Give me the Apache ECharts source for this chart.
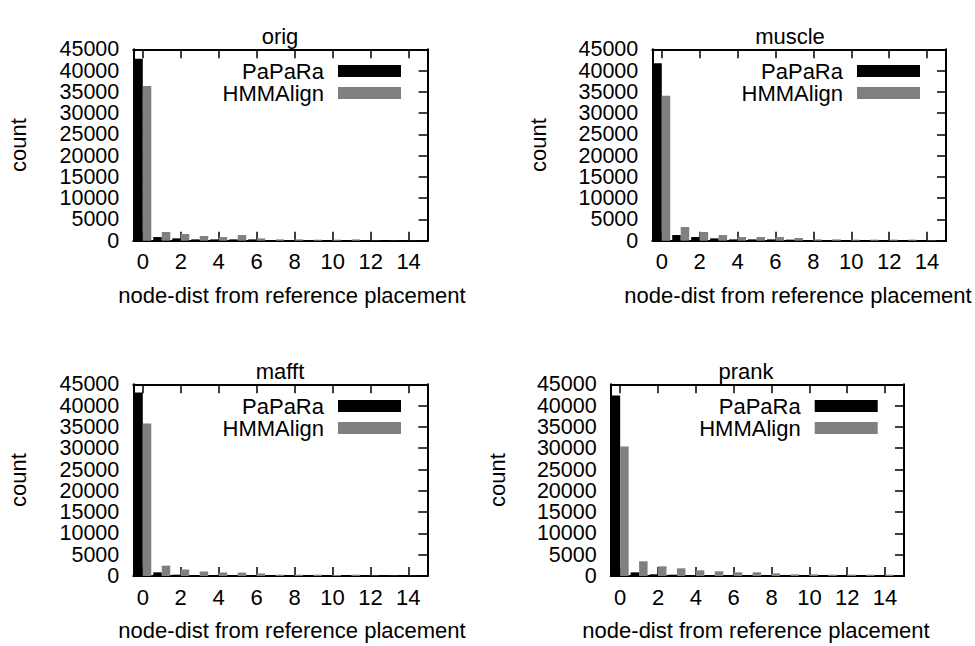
<!DOCTYPE html>
<html>
<head>
<meta charset="utf-8">
<script src="https://cdn.jsdelivr.net/npm/echarts@6/dist/echarts.min.js"></script>
<style>
  html, body { margin: 0; padding: 0; background: #fff; }
  #chart { width: 975px; height: 646px; }
</style>
</head>
<body>
<div id="chart"></div>
<script>
// --- data ---
var dists = [0, 1, 2, 3, 4, 5, 6, 7, 8, 9, 10, 11, 12, 13, 14];
var xTicks = [0, 2, 4, 6, 8, 10, 12, 14];
// y tick labels, split in two sets so the tightly packed labels are all kept
var yLabelsA = [0, 10000, 20000, 30000, 40000];
var yLabelsB = [5000, 15000, 25000, 35000, 45000];
var seriesNames = ['PaPaRa', 'HMMAlign'];
var panelNames = ['orig', 'muscle', 'mafft', 'prank'];

var origPapara   = [42800, 860, 550, 310, 310, 310, 310, 80, 50, 40, 30, 20, 10, 5, 5];
var origHmm      = [36400, 2040, 1570, 1100, 860, 1330, 550, 310, 310, 240, 240, 310, 60, 40, 30];
var musclePapara = [41700, 1330, 860, 550, 310, 310, 310, 250, 100, 80, 60, 40, 30, 20, 10];
var muscleHmm    = [34100, 3210, 2040, 1330, 860, 860, 860, 630, 310, 310, 250, 250, 250, 250, 100];
var mafftPapara  = [43100, 860, 310, 240, 100, 80, 60, 40, 30, 20, 10, 10, 5, 5, 5];
var mafftHmm     = [35800, 2430, 1530, 1060, 820, 800, 590, 310, 310, 310, 240, 310, 100, 50, 30];
var prankPapara  = [42400, 860, 390, 310, 80, 60, 50, 40, 30, 20, 20, 10, 10, 5, 5];
var prankHmm     = [30400, 3450, 2270, 1800, 1330, 1100, 860, 860, 630, 390, 390, 310, 310, 310, 310];

var panelData = [
  [origPapara, origHmm],
  [musclePapara, muscleHmm],
  [mafftPapara, mafftHmm],
  [prankPapara, prankHmm]
];

// --- layout (px) ---
var grids = [
  { left: 133.3, top: 49.3, width: 294.3, height: 191.4 },
  { left: 652.3, top: 49.3, width: 293.7, height: 191.4 },
  { left: 133.3, top: 384.3, width: 294, height: 191.7 },
  { left: 610.7, top: 384.3, width: 293.3, height: 191.7 }
];
var titlePos = [[280, 36], [790, 36], [280, 371], [746, 371]];
var xNamePos = [[292, 295], [798, 295], [292, 630], [756, 630]];
var yNamePos = [[18, 145], [538, 145], [18, 480], [497, 480]];
var legendPos = [[574, 60], [55, 60], [574, 395], [97.3, 395]];

var font = '"Liberation Sans", Arial, Helvetica, sans-serif';
var fs = 22;
var colors = ['#000000', '#808080'];

var chart = echarts.init(document.getElementById('chart'), null, { renderer: 'svg' });

var xAxes = [], yAxes = [], series = [], legends = [], graphics = [];

function xAxis(i, pos) {
  return {
    type: 'value', gridIndex: i, position: pos, min: -0.5, max: 15,
    axisLine: { onZero: false, lineStyle: { color: '#000', width: 2 } },
    axisTick: { inside: true, length: 9, customValues: xTicks, lineStyle: { color: '#000', width: 1.5 } },
    axisLabel: { show: pos === 'bottom', customValues: xTicks, color: '#000', fontSize: fs, fontFamily: font, margin: 10 },
    splitLine: { show: false }
  };
}
function yAxis(i, pos, labels) {
  return {
    type: 'value', gridIndex: i, position: pos, min: 0, max: 45000, interval: 5000,
    axisLine: { show: !!pos && labels !== yLabelsB, onZero: false, lineStyle: { color: '#000', width: 2 } },
    axisTick: { show: labels !== yLabelsB, inside: true, length: 9, lineStyle: { color: '#000', width: 1.5 } },
    axisLabel: {
      show: !!labels, customValues: labels || undefined,
      color: '#000', fontSize: 21.5, fontFamily: font, margin: 14,
      showMinLabel: true, showMaxLabel: true, hideOverlap: false,
      formatter: function(v) { return String(v); }
    },
    splitLine: { show: false }
  };
}

panelNames.forEach(function(name, i) {
  xAxes[i] = xAxis(i, 'bottom');
  xAxes[i + 4] = xAxis(i, 'top');
  yAxes[i] = yAxis(i, 'left', yLabelsA);
  yAxes[i + 4] = yAxis(i, 'right', null);
  yAxes[i + 8] = yAxis(i, 'left', yLabelsB);

  seriesNames.forEach(function(sname, j) {
    series.push({
      name: sname,
      type: 'bar',
      xAxisIndex: i,
      yAxisIndex: i,
      barWidth: 8.5,
      barGap: '0%',
      itemStyle: { color: colors[j] },
      data: dists.map(function(d, k) { return [d, panelData[i][j][k]]; })
    });
  });

  legends.push({
    data: seriesNames,
    orient: 'vertical',
    align: 'right',
    right: legendPos[i][0],
    top: legendPos[i][1],
    padding: 0,
    itemGap: 0,
    itemWidth: 63,
    itemHeight: 12,
    icon: 'rect',
    selectedMode: false,
    textStyle: { color: '#000', fontSize: fs, fontFamily: font, lineHeight: 22, padding: [0, 9, 0, 0] }
  });

  graphics.push({
    type: 'text', x: titlePos[i][0], y: titlePos[i][1],
    style: { text: name, fill: '#000', font: fs + 'px ' + font, textAlign: 'center', textVerticalAlign: 'middle' }
  });
  graphics.push({
    type: 'text', x: xNamePos[i][0], y: xNamePos[i][1],
    style: { text: 'node-dist from reference placement', fill: '#000', font: fs + 'px ' + font, textAlign: 'center', textVerticalAlign: 'middle' }
  });
  graphics.push({
    type: 'text', x: yNamePos[i][0], y: yNamePos[i][1], rotation: Math.PI / 2,
    style: { text: 'count', fill: '#000', font: fs + 'px ' + font, textAlign: 'center', textVerticalAlign: 'middle' }
  });
});

chart.setOption({
  animation: false,
  backgroundColor: '#fff',
  grid: grids,
  xAxis: xAxes,
  yAxis: yAxes,
  legend: legends,
  series: series,
  graphic: graphics
});
</script>
</body>
</html>
